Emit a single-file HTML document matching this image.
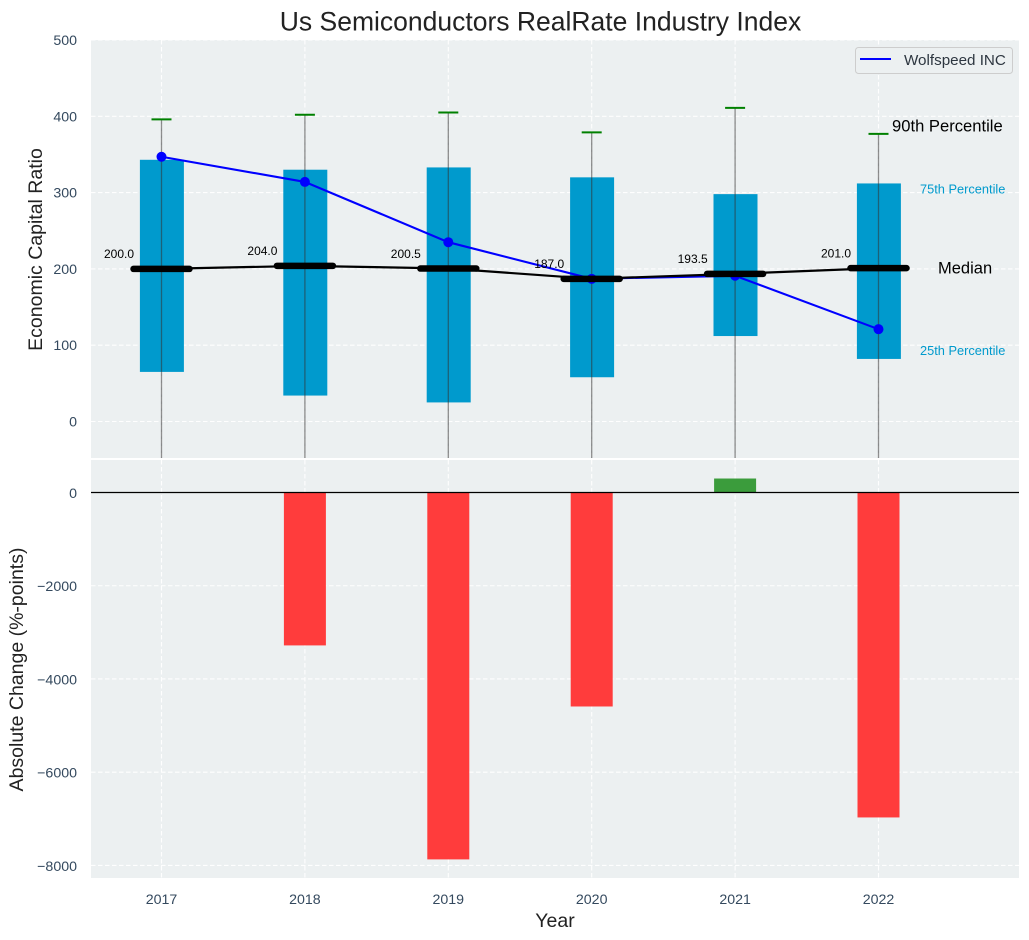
<!DOCTYPE html>
<html lang="en">
<head>
<meta charset="utf-8">
<title>Us Semiconductors RealRate Industry Index</title>
<style>
html,body{margin:0;padding:0;background:#fff;}
svg{display:block;font-family:"Liberation Sans",sans-serif;}
</style>
</head>
<body>
<svg id="chart" width="1029" height="940" viewBox="0 0 1029 940" xmlns="http://www.w3.org/2000/svg">
  <rect x="91" y="40" width="928" height="418" fill="#ecf0f1"/>
  <rect x="91" y="460" width="928" height="418" fill="#ecf0f1"/>
  <g id="grid"></g>
  <g id="top-marks"></g>
  <g id="bottom-marks"></g>
  <g id="ticks"></g>
  <text x="540.5" y="30.5" text-anchor="middle" font-size="26.5" fill="#222">Us Semiconductors RealRate Industry Index</text>
  <text transform="translate(42 249.5) rotate(-90)" text-anchor="middle" font-size="19.5" fill="#222">Economic Capital Ratio</text>
  <text transform="translate(23 669.5) rotate(-90)" text-anchor="middle" font-size="19.5" fill="#222">Absolute Change (%-points)</text>
  <text x="555" y="927" text-anchor="middle" font-size="19.5" fill="#222">Year</text>
  <g>
    <rect x="855.5" y="47.5" width="157" height="26" rx="3" fill="#ecf0f1" stroke="#cdcdcd" stroke-width="1"/>
    <line x1="860" y1="59" x2="891" y2="59" stroke="#0000ff" stroke-width="2"/>
    <text x="904" y="65" font-size="15.2" fill="#2d3640">Wolfspeed INC</text>
  </g>
</svg>
<script>
const years = [2017, 2018, 2019, 2020, 2021, 2022];
const p90 = [396, 402, 405, 379, 411, 377];
const p75 = [343, 330, 333, 320, 298, 312];
const medians = [200, 204, 200.5, 187, 193.5, 201];
const p25 = [65, 34, 25, 58, 112, 82];
const companyValues = [347, 314, 235, 187, 191, 121];
const absoluteChange = [0, -3280, -7870, -4590, 300, -6970];
const topTicks = [0, 100, 200, 300, 400, 500];
const bottomTicks = [0, -2000, -4000, -6000, -8000];

const NS = 'http://www.w3.org/2000/svg';
const x = v => 161.5 + (v - 2017) * 143.4;
const yTop = v => 421.5 - v * 0.763;
const yBottom = v => 492.5 - v * 0.04662;
const TOP_MIN_PX = 458;

function make(parent, tag, attrs, text) {
  const el = document.createElementNS(NS, tag);
  for (const k in attrs) el.setAttribute(k, attrs[k]);
  if (text !== undefined) el.textContent = text;
  parent.appendChild(el);
  return el;
}
const gridG = document.getElementById('grid');
const topG = document.getElementById('top-marks');
const botG = document.getElementById('bottom-marks');
const tickG = document.getElementById('ticks');
const dash = {stroke: '#ffffff', 'stroke-width': 1.1, 'stroke-dasharray': '4.5 2.5', opacity: 0.95};

topTicks.forEach(t => {
  const g = make(gridG, 'line', Object.assign({x1: 91, x2: 1019, y1: yTop(t), y2: yTop(t)}, dash));
  
  
  const l = make(tickG, 'text', {x: 77, y: yTop(t) + 5, 'text-anchor': 'end', 'font-size': 14.2, fill: '#34495e'}, String(t));
  
  
});
bottomTicks.forEach(t => {
  const g = make(gridG, 'line', Object.assign({x1: 91, x2: 1019, y1: yBottom(t), y2: yBottom(t)}, dash));
  
  
  const l = make(tickG, 'text', {x: 77, y: yBottom(t) + 5.5, 'text-anchor': 'end', 'font-size': 14.2, fill: '#34495e'}, String(t).replace('-', '\u2212'));
  
  
});
years.forEach(yr => {
  const a = make(gridG, 'line', Object.assign({x1: x(yr), x2: x(yr), y1: 40, y2: 458}, dash));
  
  
  const b = make(gridG, 'line', Object.assign({x1: x(yr), x2: x(yr), y1: 460, y2: 878}, dash));
  
  
  const l = make(tickG, 'text', {x: x(yr), y: 904, 'text-anchor': 'middle', 'font-size': 14.2, fill: '#34495e'}, String(yr));
  
  
});

/* boxes */
years.forEach((yr, i) => {
  const box = make(topG, 'rect', {x: x(yr) - 21.6, width: 44, y: yTop(p75[i]), height: yTop(p25[i]) - yTop(p75[i]), fill: '#009acd'});
  
  
});
/* whiskers + caps */
years.forEach((yr, i) => {
  const w = make(topG, 'line', {x1: x(yr), x2: x(yr), y1: yTop(p90[i]), y2: TOP_MIN_PX, stroke: '#333', 'stroke-width': 1.3, opacity: 0.55});
  
  
  const c = make(topG, 'line', {x1: x(yr) - 10, x2: x(yr) + 10, y1: yTop(p90[i]), y2: yTop(p90[i]), stroke: '#008000', 'stroke-width': 2});
  
  
});
/* company line */
const companyLine = make(topG, 'polyline', {points: years.map((yr, i) => x(yr) + ',' + yTop(companyValues[i])).join(' '), fill: 'none', stroke: '#0000ff', 'stroke-width': 2.1});


years.forEach((yr, i) => {
  const p = make(topG, 'circle', {cx: x(yr), cy: yTop(companyValues[i]), r: 5, fill: '#0000ff'});
  
  
});
/* medians */
const medianLine = make(topG, 'polyline', {points: years.map((yr, i) => x(yr) + ',' + yTop(medians[i])).join(' '), fill: 'none', stroke: '#000', 'stroke-width': 2.2});


years.forEach((yr, i) => {
  const m = make(topG, 'line', {x1: x(yr) - 28, x2: x(yr) + 28, y1: yTop(medians[i]), y2: yTop(medians[i]), stroke: '#000', 'stroke-width': 6.5, 'stroke-linecap': 'round'});
  
  
  const t = make(topG, 'text', {x: x(yr) - 57.5, y: yTop(medians[i]) - 10.7, 'font-size': 12, fill: '#000'}, medians[i].toFixed(1));
  
  
});
/* side annotations anchored on the last year */
const last = years.length - 1;
const lbl90 = make(topG, 'text', {x: x(years[last]) + 13.5, y: yTop(p90[last]) - 2.5, 'font-size': 16.6, fill: '#000'}, '90th Percentile');


const lbl75 = make(topG, 'text', {x: x(years[last]) + 41.5, y: yTop(p75[last]) + 10, 'font-size': 12.8, fill: '#009acd'}, '75th Percentile');


const lblMed = make(topG, 'text', {x: x(years[last]) + 59.5, y: yTop(medians[last]) + 5.5, 'font-size': 16.5, fill: '#000'}, 'Median');


const lbl25 = make(topG, 'text', {x: x(years[last]) + 41.5, y: yTop(p25[last]) - 3.7, 'font-size': 12.8, fill: '#009acd'}, '25th Percentile');



/* bottom bars */
years.forEach((yr, i) => {
  const v = absoluteChange[i];
  if (v === 0) return;
  const y0 = Math.min(yBottom(0), yBottom(v));
  const h = Math.abs(yBottom(v) - yBottom(0));
  const b = make(botG, 'rect', {x: x(yr) - 21, width: 42, y: y0, height: h, fill: v < 0 ? '#ff3c3c' : '#3b9c3c'});
  
  
});
const zero = make(botG, 'line', {x1: 91, x2: 1019, y1: yBottom(0), y2: yBottom(0), stroke: '#000', 'stroke-width': 1.2});


</script>
</body>
</html>
